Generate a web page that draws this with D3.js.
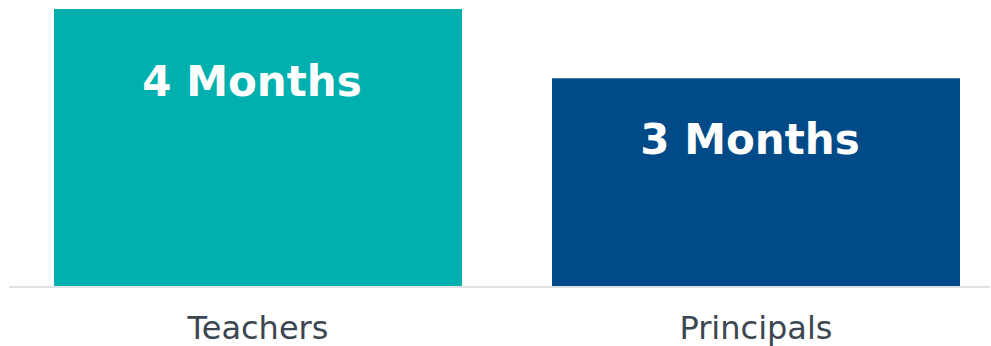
<!DOCTYPE html>
<html>
<head>
    <meta charset="UTF-8">
    <script src="https://cdn.jsdelivr.net/npm/d3@7"></script>
    <style>
        body {
            margin: 0;
            background-color: #ffffff;
        }

        .cat-label {
            font-family: 'DejaVu Sans', sans-serif;
            font-size: 32px;
            fill: #3c4650;
        }

        .bar-label {
            font-family: 'DejaVu Sans', sans-serif;
            font-size: 42px;
            font-weight: bold;
            fill: #ffffff;
        }
    </style>
</head>
<body>
    <svg id="chart" width="991" height="346"></svg>
    <script>
        var categories = ["Teachers", "Principals"];
        var values = [4, 3];
        var valueLabels = ["4 Months", "3 Months"];
        var colors = ["#00b0ae", "#004a87"];

        var width = 991;
        var height = 346;
        var baseY = 286;

        var svg = d3.select("#chart");

        var x = d3.scaleBand()
            .domain(categories)
            .range([9, 1005])
            .paddingInner(0.1807)
            .paddingOuter(0.0904);

        var y = d3.scaleLinear()
            .domain([0, 4])
            .range([baseY, 9]);

        var data = categories.map(function (c, i) {
            return { cat: c, value: values[i], label: valueLabels[i], color: colors[i] };
        });

        // bars
        svg.selectAll("rect.bar")
            .data(data)
            .enter()
            .append("rect")
            .attr("class", "bar")
            .attr("x", function (d) { return x(d.cat); })
            .attr("y", function (d) { return y(d.value); })
            .attr("width", x.bandwidth())
            .attr("height", function (d) { return baseY - y(d.value); })
            .attr("fill", function (d) { return d.color; });

        // baseline
        svg.append("line")
            .attr("x1", 9)
            .attr("x2", 990)
            .attr("y1", baseY + 1)
            .attr("y2", baseY + 1)
            .attr("stroke", "#dfe2e5")
            .attr("stroke-width", 2);

        // value labels inside the bars (sit a little left of centre)
        svg.selectAll("text.bar-label")
            .data(data)
            .enter()
            .append("text")
            .attr("class", "bar-label")
            .attr("text-anchor", "middle")
            .attr("x", function (d) { return x(d.cat) + x.bandwidth() / 2 - 6; })
            .attr("y", function (d) {
                var h = baseY - y(d.value);
                return y(d.value) + 40 + 0.17 * h;
            })
            .text(function (d) { return d.label; });

        // category labels
        svg.selectAll("text.cat-label")
            .data(data)
            .enter()
            .append("text")
            .attr("class", "cat-label")
            .attr("text-anchor", "middle")
            .attr("x", function (d) { return x(d.cat) + x.bandwidth() / 2; })
            .attr("y", 339)
            .text(function (d) { return d.cat; });
    </script>
</body>
</html>
